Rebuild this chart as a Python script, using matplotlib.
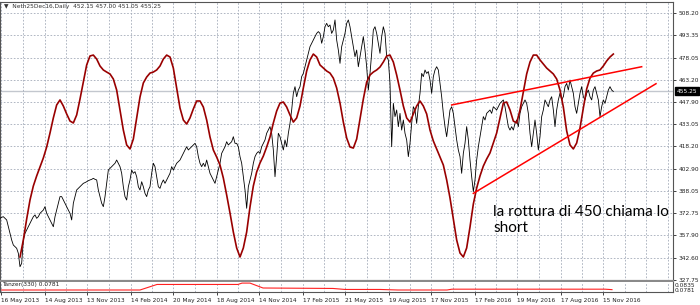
import numpy as np
import matplotlib
matplotlib.use('Agg')
import matplotlib.pyplot as plt

plt.rcParams['font.family'] = ['DejaVu Sans']

# prezzi di chiusura Neth25 Dec16 (una lettura ogni 2.5 barre)
close_start = 0
close_step = 2.5
close = [
    369.3, 370.0, 370.4, 369.3, 368.2, 363.6, 359.1, 354.6, 351.2, 350.1,
    349.0, 345.6, 336.5, 338.8, 354.6, 359.1, 361.4, 363.6, 365.9, 368.2,
    370.4, 371.6, 369.3, 370.4, 372.7, 373.8, 374.9, 377.2, 372.7, 370.4,
    368.2, 365.9, 363.6, 370.4, 374.9, 379.5, 384.0, 384.0, 381.7, 379.5,
    377.2, 374.9, 372.7, 368.2, 379.5, 384.0, 388.5, 389.6, 390.7, 391.9,
    393.0, 393.5, 394.1, 394.8, 395.3, 395.7, 396.4, 395.7, 395.3, 388.5,
    384.0, 379.5, 377.2, 384.0, 393.0, 402.0, 403.2, 404.3, 405.4, 406.6,
    408.8, 406.6, 404.3, 399.8, 390.7, 384.0, 381.7, 390.7, 395.3, 402.0,
    399.8, 400.9, 397.5, 390.7, 388.5, 394.1, 390.7, 386.2, 384.0, 388.5,
    390.7, 399.8, 406.6, 404.3, 397.5, 390.7, 389.6, 393.0, 395.3, 393.0,
    395.3, 397.5, 399.8, 404.3, 402.0, 404.3, 406.6, 407.7, 408.8, 411.1,
    413.3, 415.6, 417.8, 415.6, 416.7, 417.8, 419.0, 420.1, 417.8, 411.1,
    406.6, 404.3, 406.6, 404.3, 408.8, 404.3,
    399.8, 397.5, 395.3, 393.0, 397.5, 402.0, 406.6, 413.3, 415.6, 417.8,
    421.2, 419.0, 420.1, 421.2, 424.6, 420.1, 420.1, 417.8, 411.1, 406.6,
    397.5, 388.5, 376.1, 390.7, 395.3, 399.8, 406.6, 411.1, 413.3, 414.5,
    413.3, 417.8, 420.1, 422.4, 426.9, 429.1, 431.4, 426.9, 415.6, 397.5,
    411.1, 426.9, 424.6, 420.1, 415.6, 422.4, 417.8, 426.9, 433.6, 442.7,
    454.0, 458.5, 451.7, 456.2, 458.5, 465.3, 467.5, 472.0, 476.6, 481.1,
    485.6, 487.9, 490.1, 492.4, 494.6, 495.8, 494.6, 487.9, 492.4, 499.1,
    501.4, 499.1, 500.3, 494.6, 496.9, 503.7, 490.1, 483.3, 474.3, 485.6,
    490.1, 494.6, 501.4, 503.7, 499.1, 492.4, 485.6, 478.8, 483.3, 472.0,
    478.8, 485.6, 492.4, 483.3, 472.0, 456.2, 467.5, 481.1, 496.9, 499.1,
    494.6, 487.9, 481.1, 492.4, 499.1, 494.6, 478.8, 476.6, 460.7, 417.8,
    447.2, 438.2, 442.7, 431.4, 440.4, 429.1, 435.9, 426.9, 422.4, 411.1,
    420.1, 433.6, 444.9, 442.7, 433.6, 444.9, 454.0,
    467.5, 465.3, 469.8, 467.5, 468.7, 463.0, 454.0, 465.3, 469.8, 472.0,
    469.8, 460.7, 451.7, 440.4, 431.4, 424.6, 433.6, 442.7, 444.9, 440.4,
    431.4, 422.4, 415.6, 411.1, 399.8, 413.3, 420.1, 431.4, 422.4, 408.8,
    397.5, 387.4, 395.3, 408.8, 417.8, 424.6, 431.4, 438.2, 435.9, 440.4,
    441.6, 442.7, 440.4, 444.9, 443.8, 442.7, 444.9, 447.2, 448.3, 449.5,
    444.9, 438.2, 431.4, 429.1, 431.4, 429.1, 433.6, 435.9, 431.4, 440.4,
    444.9, 447.2, 449.5, 447.2, 440.4, 426.9, 417.8, 426.9, 435.9, 426.9,
    415.6, 424.6, 438.2, 442.7, 449.5, 447.2, 444.9, 449.5, 451.7, 442.7,
    431.4, 442.7, 449.5, 454.0, 449.5, 451.7, 458.5, 460.7, 456.2, 463.0,
    458.5, 454.0, 444.9, 440.4, 447.2, 454.0, 458.5, 451.7, 449.5, 454.0,
    456.2, 451.7, 449.5, 456.2, 458.5, 454.0, 449.5, 438.2, 444.9, 449.5,
    447.2, 451.7, 456.2, 458.5, 456.2, 455.25,
]

# curva ciclica (rosso scuro), una lettura ogni 5 barre
cycle_start = 30
cycle_step = 5
cycle = [
    343.1, 354.6, 368.8, 381.7, 391.2, 398.0, 404.1, 410.2, 417.6, 427.1,
    437.3, 446.1, 449.5, 445.4, 440.0, 435.2, 433.9, 439.3, 450.1, 461.6,
    473.2, 479.3, 479.9, 477.2, 472.5, 469.8, 468.4, 467.1, 463.7, 456.2,
    442.7, 429.1, 419.0, 416.3, 423.0, 437.3, 451.5, 461.0, 465.0, 467.7,
    468.4, 469.8, 472.5, 477.2, 479.9, 478.6, 471.1, 457.6, 444.0, 435.9,
    433.2, 437.3, 443.4, 448.8, 448.8, 444.7, 435.9, 424.4, 415.6, 410.8,
    405.4, 396.6, 385.1, 372.9, 360.0, 349.2, 343.1, 349.2, 360.0, 377.0,
    391.2, 400.7, 406.8, 411.5, 417.6, 424.4, 433.9, 442.0, 447.4, 448.1,
    444.7, 439.3, 434.5, 437.3, 445.4, 457.6, 469.1, 476.6, 480.6, 478.6,
    473.2, 471.1, 469.1, 467.7, 464.3, 457.6, 447.4, 434.5, 423.7, 417.6,
    416.9, 423.0, 436.6, 450.1, 461.6, 466.4, 468.4, 469.8, 471.8, 475.2,
    479.3, 479.9, 475.2, 466.4, 456.2, 445.4, 437.3, 434.5, 440.0, 445.4,
    448.8, 445.4, 440.0, 429.1, 421.7, 416.3, 410.8, 405.4, 395.3, 383.1,
    368.8, 354.6, 345.8, 343.1, 349.2, 363.4, 379.0, 389.8, 398.0, 404.7,
    409.5, 413.6, 420.3, 427.1, 437.3, 447.4, 448.1, 442.7, 435.2, 433.9,
    442.7, 454.9, 467.1, 475.2, 479.9, 479.9, 476.6, 473.8, 471.1, 469.1,
    467.1, 463.7, 456.2, 444.7, 428.5, 419.0, 416.3, 420.3, 430.5, 444.0,
    456.9, 464.3, 467.7, 469.1, 469.8, 472.5, 475.9, 478.6, 480.6,
]

# linee di tendenza
trend_up_x = [677.5, 962.5]
trend_up_y = [446.1, 472.0]
trend_dn_x = [710, 984]
trend_dn_y = [386.2, 460.5]

# indicatore Tanzer(330)
tanzer_x = [0, 210, 235.5, 357, 363, 375, 394.5, 499.5, 517.5, 570, 597, 670.5, 678, 907.5, 918]
tanzer = [0.0777, 0.0777, 0.0838, 0.0838, 0.0853, 0.0853, 0.0799, 0.0794, 0.0783,
          0.0783, 0.0777, 0.0777, 0.0786, 0.0786, 0.0781]

price_ticks = [508.20, 493.35, 478.05, 463.20, 447.90, 433.05, 418.20, 402.90,
               388.05, 372.75, 357.90, 342.60, 327.75]
date_pos = [2, 67, 131, 196, 260, 325, 389, 454, 518, 583, 647, 712, 776, 841, 905]
date_labels = ['16 May 2013', '14 Aug 2013', '13 Nov 2013', '14 Feb 2014', '20 May 2014',
               '18 Aug 2014', '14 Nov 2014', '17 Feb 2015', '21 May 2015', '19 Aug 2015',
               '17 Nov 2015', '17 Feb 2016', '19 May 2016', '17 Aug 2016', '15 Nov 2016']
last_price = 455.25

grid_col = '#a3abb9'
fs = 4.2

fig = plt.figure(figsize=(7, 3.05), dpi=100)
ax = fig.add_axes([0, 24 / 305, 673 / 700, 279 / 305])
ax2 = fig.add_axes([0, 13 / 305, 673 / 700, 10 / 305])

close_x = close_start + close_step * np.arange(len(close))
cycle_x = cycle_start + cycle_step * np.arange(len(cycle))

ax.axhline(last_price, color='#c3c7ce', lw=1.0, zorder=1)
ax.plot(close_x, close, color='black', lw=0.6, zorder=3)
ax.plot(cycle_x, cycle, color='#990000', lw=1.2, solid_joinstyle='round', zorder=4)
ax.plot(trend_up_x, trend_up_y, color='#ff0000', lw=1.1, zorder=5)
ax.plot(trend_dn_x, trend_dn_y, color='#ff0000', lw=1.1, zorder=5)

ax.text(739.5, 378.3, 'la rottura di 450 chiama lo\nshort', family='Lato', fontsize=11,
        va='top', ha='left', color='black', zorder=6)

ax.set_xlim(0, 1009.5)
ax.set_ylim(326.83, 515.86)
ax.set_yticks(price_ticks)
ax.set_yticklabels(['%.2f' % v for v in price_ticks])
ax.yaxis.tick_right()
ax.tick_params(axis='y', direction='out', length=2.5, width=0.6, pad=1.5,
               labelsize=fs, colors='#222222')
ax.set_xticks(date_pos)
ax.set_xticks([p + 32.3 for p in date_pos] + [969.5, 1002], minor=True)
ax.tick_params(axis='x', which='both', length=0, labelbottom=False)
ax.grid(True, which='both', color=grid_col, lw=0.6, ls=(0, (2, 2)))
for s in ['top', 'left', 'right']:
    ax.spines[s].set_color('#555555')
    ax.spines[s].set_linewidth(0.8)
ax.spines['bottom'].set_color('#8a8a8a')
ax.spines['bottom'].set_linewidth(1.6)

ax.annotate('%.2f' % last_price, xy=(1.0, last_price), xycoords=ax.get_yaxis_transform(),
            xytext=(2.5, 0), textcoords='offset points', va='center', ha='left',
            fontsize=fs, color='white', zorder=10, annotation_clip=False,
            bbox=dict(boxstyle='square,pad=0.25', fc='black', ec='black'))

fig.text(4 / 700, 1 - 6.5 / 305, '\u25bc  Neth25Dec16,Daily  452.15 457.00 451.05 455.25',
         fontsize=fs, color='#333333', va='center', ha='left')

ax2.plot(tanzer_x, tanzer, color='#ff2020', lw=0.8)
ax2.set_xlim(0, 1009.5)
ax2.set_ylim(0.0755, 0.0865)
ax2.set_yticks([0.0835, 0.0781])
ax2.set_yticklabels(['0.0835', '0.0781'])
ax2.yaxis.tick_right()
ax2.tick_params(axis='y', length=0, pad=1.5, labelsize=fs, colors='#222222')
ax2.set_xticks(date_pos)
ax2.set_xticklabels(date_labels, ha='left')
ax2.set_xticks([p + 32.3 for p in date_pos] + [969.5, 1002], minor=True)
ax2.tick_params(axis='x', which='major', direction='out', length=2.5, width=0.6,
                pad=1.5, labelsize=fs, colors='#222222')
ax2.tick_params(axis='x', which='minor', length=0)
ax2.grid(True, axis='x', which='both', color=grid_col, lw=0.6, ls=(0, (2, 2)))
for s in ax2.spines.values():
    s.set_color('#555555')
    s.set_linewidth(0.8)
ax2.spines['top'].set_visible(False)
ax2.text(3, 0.0835, 'Tanzer(330) 0.0781', fontsize=fs, color='#222222', va='center')

fig.savefig('out.png', dpi=100)
